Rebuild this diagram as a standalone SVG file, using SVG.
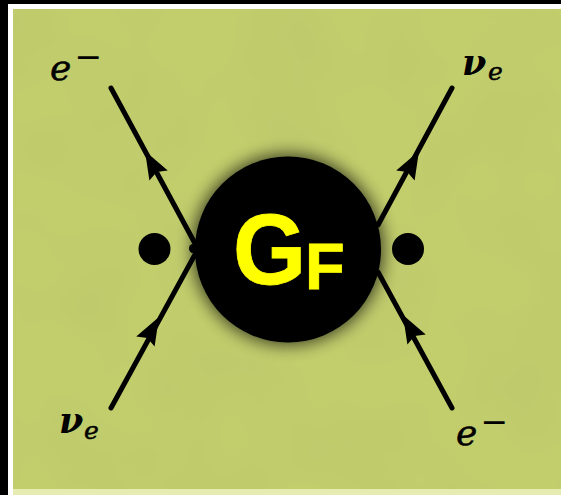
<svg xmlns="http://www.w3.org/2000/svg" width="561" height="495" viewBox="0 0 561 495">
<style>
.lab{font-family:"DejaVu Serif","Liberation Serif",serif;font-style:italic;fill:#000;stroke:#000;stroke-width:.5}
.main{font-size:36px}
.sub{font-size:25px}
.nu{font-weight:bold;font-size:35px;stroke-width:0}
.minus{font-family:"DejaVu Serif",serif;font-size:33px;fill:#000}
.ln{stroke:#000;stroke-width:5;stroke-linecap:round;fill:none}
.gf{font-family:"Liberation Sans",Arial,sans-serif;font-weight:bold;fill:#ff0;stroke:#ff0;stroke-width:.8}
</style>
<defs>
<filter id="glow" x="-25%" y="-25%" width="150%" height="150%"><feGaussianBlur stdDeviation="8"/></filter>
<filter id="mottle" x="0" y="0" width="100%" height="100%"><feTurbulence type="fractalNoise" baseFrequency="0.012" numOctaves="2" seed="4"/><feColorMatrix values="0 0 0 0 0.35  0 0 0 0 0.42  0 0 0 0 0.15  0.2 0 0 0 -0.07"/></filter>
<polygon id="ah" points="0,0 10.500,28 0,24 -10.500,28" fill="#000"/>
</defs>
<rect width="561" height="495" fill="#000"/>
<rect x="8" y="4" width="553" height="491" fill="#fff"/>
<rect x="13" y="488.500" width="548" height="6.500" fill="#e6ebb2"/>
<rect x="13" y="9" width="548" height="480" fill="#c2cd6c"/>
<rect x="13" y="9" width="548" height="480" filter="url(#mottle)"/>
<g id="connectors">
<line class="ln" x1="111" y1="88" x2="198" y2="249"/>
<line class="ln" x1="111" y1="408" x2="198" y2="249"/>
<line class="ln" x1="452" y1="88" x2="378" y2="225"/>
<line class="ln" x1="452" y1="408" x2="378" y2="272"/>
<use href="#ah" transform="translate(145,151) rotate(-29)"/>
<use href="#ah" transform="translate(159,317) rotate(29)"/>
<use href="#ah" transform="translate(419,151) rotate(29)"/>
<use href="#ah" transform="translate(403,315) rotate(-29)"/>
</g>
<g id="node-gf">
<circle cx="288" cy="249.500" r="96" fill="#000" opacity="0.65" filter="url(#glow)"/>
<circle cx="288" cy="249.500" r="93" fill="#000"/>
<ellipse cx="193" cy="248.500" rx="4" ry="4.500" fill="#000"/>
<text class="gf" transform="translate(233,284) scale(.94,1)" font-size="100">G</text>
<text class="gf" x="305" y="289" font-size="65">F</text>
</g>
<g id="dot-left"><circle cx="154.500" cy="249" r="16" fill="#000"/></g>
<g id="dot-right"><circle cx="408" cy="249" r="16" fill="#000"/></g>
<g id="label-e-tl"><text class="lab main" x="50" y="80">e</text><text class="minus" x="74.500" y="68">−</text></g>
<g id="label-nu-tr"><text class="lab nu" x="462" y="75">ν</text><text class="lab sub" x="488" y="80">e</text></g>
<g id="label-nu-bl"><text class="lab nu" x="59" y="433">ν</text><text class="lab sub" x="84" y="439">e</text></g>
<g id="label-e-br"><text class="lab main" x="456" y="445">e</text><text class="minus" x="480.500" y="433">−</text></g>
</svg>
